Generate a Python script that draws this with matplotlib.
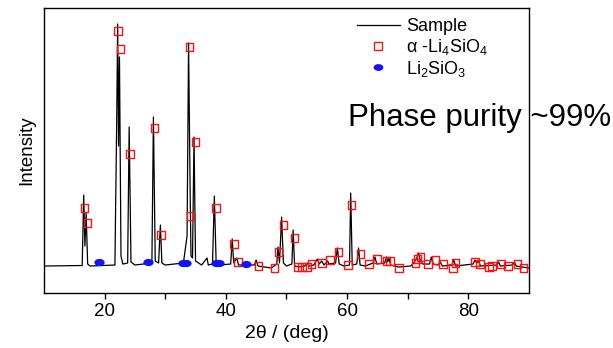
import matplotlib
matplotlib.use("Agg")
import matplotlib.pyplot as plt
from matplotlib.path import Path
from matplotlib.transforms import Affine2D
from matplotlib.lines import Line2D

plt.rcParams["font.family"] = ["Liberation Sans", "DejaVu Sans"]
plt.rcParams["mathtext.fontset"] = "custom"
plt.rcParams["mathtext.rm"] = "Liberation Sans"
plt.rcParams["mathtext.it"] = "Liberation Sans"

# Sample pattern vertices (2theta, intensity)
two_theta = [10.0, 16.3, 16.55, 16.75, 16.95, 17.2, 17.6, 21.7, 22.0, 22.15,
             22.3, 22.45, 22.7, 23.0, 23.8, 24.05, 24.35, 25.0, 27.8, 28.05,
             28.35, 28.9, 29.2, 29.45, 30.0, 33.0, 33.6, 33.85, 34.1, 34.25,
             34.5, 34.75, 35.0, 36.0, 36.9, 37.1, 37.8, 38.1, 38.4, 39.0,
             40.8, 41.05, 41.3, 41.8, 42.1, 44.7, 45.0, 45.3, 47.5, 48.4,
             48.6, 48.85, 49.2, 49.5, 50.0, 50.9, 51.1, 51.35, 52.0, 53.0,
             53.5, 53.7, 54.5, 55.1, 55.4, 55.8, 56.2, 56.8, 57.0, 58.1,
             58.4, 58.7, 59.5, 60.4, 60.6, 60.85, 61.6, 61.9, 62.15, 63.0,
             64.3, 64.6, 64.9, 66.2, 66.5, 66.7, 66.9, 67.2, 68.5, 70.5,
             71.1, 71.5, 71.8, 72.1, 72.5, 73.6, 73.9, 74.2, 75.0, 75.4,
             75.7, 77.3, 77.6, 77.9, 80.8, 81.1, 81.4, 81.7, 82.0, 84.7,
             85.0, 85.3, 87.3, 87.6, 87.9, 90.0]
intensity = [0, 0.5, 71, 20, 53, 2, 0, 1, 150, 242,
             120, 209, 10, 2, 3, 139, 4, 1, 3, 149,
             5, 3, 41, 3, 1, 3, 30, 223, 79, 10,
             8, 129, 5, 1, 8, 1, 2, 70, 3, 1,
             2, 27, 3, 8, 1, 1, 6, 0, -2, 2,
             19, 3, 49, 3, 0, 2, 36, 0, -1, 0,
             3, 0, 1, 7, 2, 5, 1, 5, 2, 3,
             18, 2, 0, 1, 73, 1, 2, 18, 1, 0,
             3, 9, 2, 3, 9, 4, 8, 1, -1, 0,
             4, 8, 13, 5, 2, 2, 9, 2, 1, 4,
             0, 1, 6, 0, 2, 6, 3, 5, 0, 1,
             4, 0, 1, 4, 0, -2]

# alpha-Li4SiO4 reflections
li4_x = [16.66, 17.2, 22.2, 22.6, 24.2, 28.2, 29.3, 34.0, 34.2, 35.0,
         38.4, 41.3, 42.0, 45.4, 48.0, 48.7, 49.5, 51.3, 51.8, 52.6,
         53.4, 54.1, 55.9, 57.2, 58.6, 60.2, 60.7, 62.2, 63.6, 64.9,
         66.5, 67.1, 68.6, 71.3, 71.6, 72.1, 73.4, 74.6, 75.8, 77.5,
         77.9, 81.1, 81.9, 83.4, 83.9, 85.4, 86.6, 88.1, 89.1]
li4_y = [58, 43, 235, 217, 112, 138, 31, 219, 50, 124,
         58, 22, 4, 0, -2, 14, 41, 28, -1, -1,
         -1, 2, 3, 6, 14, 1, 61, 12, 2, 7,
         5, 5, -2, 3, 7, 9, 2, 6, 2, -2,
         3, 4, 2, -1, 0, 2, 0, 2, -2]

# Li2SiO3 reflections
li2_x = [19.1, 27.2, 33.0, 33.4, 38.3, 38.8, 43.3]
li2_y = [4, 4, 3, 3, 3, 3, 2]

RED = "#FF1010"
BLUE = "#1414F0"

fig = plt.figure(figsize=(6.13, 3.48), dpi=100)
ax = fig.add_axes([0.0718, 0.158, 0.791, 0.819])

ax.plot(two_theta, intensity, color="black", lw=0.9, zorder=2)
ax.scatter(li4_x, li4_y, marker="s", s=30, facecolors="none",
           edgecolors=RED, linewidths=1.0, zorder=3)
ell = Path.unit_circle().transformed(Affine2D().scale(1.0, 0.7))
ax.scatter(li2_x, li2_y, marker=ell, s=55, color=BLUE, lw=0, zorder=3)

ax.set_xlim(10, 90)
ax.set_ylim(-27, 258)
ax.set_xticks([20, 40, 60, 80])
ax.set_xticks([30, 50, 70], minor=True)
ax.set_yticks([])
ax.tick_params(axis="x", which="both", direction="out", length=4,
               width=1, labelsize=13.5, pad=3)
for s in ax.spines.values():
    s.set_linewidth(1.0)
ax.set_xlabel("2θ / (deg)", fontsize=14, labelpad=4)
ax.set_ylabel("Intensity", fontsize=13.5, labelpad=6)

handles = [
    Line2D([], [], color="black", lw=0.9),
    Line2D([], [], ls="none", marker="s", ms=5.5, mfc="none", mec=RED, mew=1.0),
    Line2D([], [], ls="none", marker=ell, ms=7, mfc=BLUE, mec=BLUE, mew=0),
]
labels = ["Sample", "α -Li$_4$SiO$_4$", "Li$_2$SiO$_3$"]
ax.legend(handles, labels, loc="upper left", bbox_to_anchor=(0.63, 0.99),
          frameon=False, fontsize=13, handlelength=2.4, handletextpad=0.35,
          labelspacing=0.1, borderaxespad=0)

fig.text(348 / 613, 1 - 118 / 348, "Phase purity ~99%", fontsize=22.5,
         ha="left", va="center", color="black")

fig.savefig("out.png", dpi=100)
